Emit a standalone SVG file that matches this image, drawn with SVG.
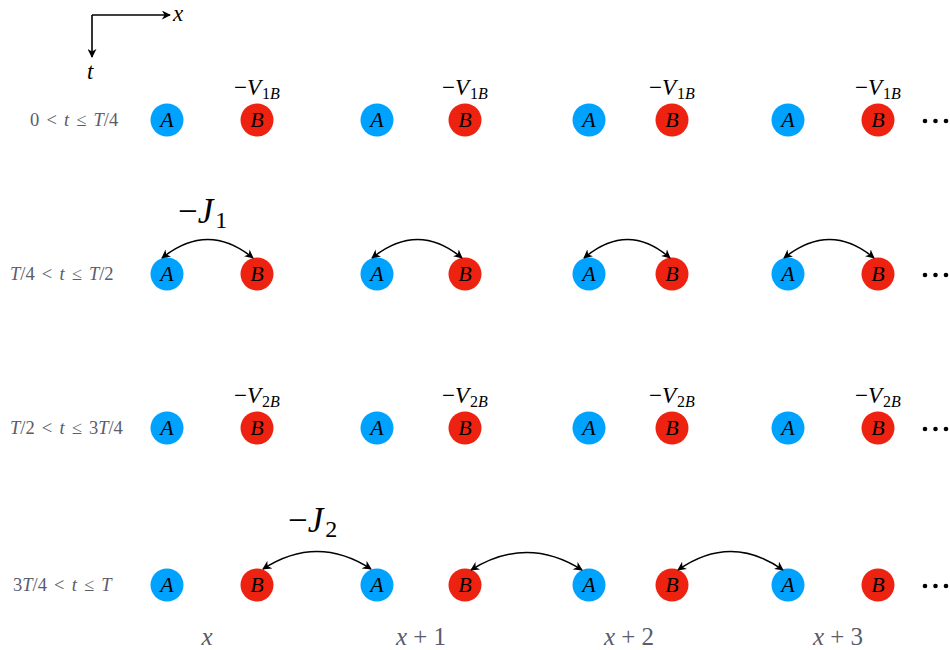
<svg xmlns="http://www.w3.org/2000/svg" width="950" height="650" viewBox="0 0 950 650" font-family="Liberation Serif, Times New Roman, serif">
<defs>
<marker id="ah" viewBox="0 0 10 10" refX="9" refY="5" markerWidth="9" markerHeight="9" markerUnits="userSpaceOnUse" orient="auto-start-reverse">
<path d="M0,0 L10,5 L0,10 L3,5 Z" fill="#000"/>
</marker>
</defs>
<style>
.a{fill:#00A2FF}
.b{fill:#EE2211}
.arc{fill:none;stroke:#000;stroke-width:1.5;marker-start:url(#ah);marker-end:url(#ah)}
.ax{fill:none;stroke:#000;stroke-width:1.6;marker-end:url(#ah)}
.dot{fill:#000}
</style>

<g id="axes">
<path class="ax" d="M92,15 L170,15"/>
<path class="ax" d="M92,15 L92,57"/>
<text x="173" y="21" font-size="23" font-style="italic" fill="#000">x</text>
<text x="87" y="79" font-size="23" font-style="italic" fill="#000">t</text>
</g>

<g id="row-labels" font-size="18.5" fill="#5b5b6b" word-spacing="2.5">
<text x="30" y="126">0 &lt; <tspan font-style="italic">t</tspan> ≤ <tspan font-style="italic">T</tspan>/4</text>
<text x="10" y="280"><tspan font-style="italic">T</tspan>/4 &lt; <tspan font-style="italic">t</tspan> ≤ <tspan font-style="italic">T</tspan>/2</text>
<text x="10" y="434"><tspan font-style="italic">T</tspan>/2 &lt; <tspan font-style="italic">t</tspan> ≤ 3<tspan font-style="italic">T</tspan>/4</text>
<text x="13" y="591">3<tspan font-style="italic">T</tspan>/4 &lt; <tspan font-style="italic">t</tspan> ≤ <tspan font-style="italic">T</tspan></text>
</g>

<g id="nodes" font-size="22" font-style="italic" text-anchor="middle" fill="#000">
<!-- Row 1 -->
<g id="r1-A0"><circle class="a" cx="167" cy="120" r="16.5"/><text x="167" y="127">A</text></g>
<g id="r1-B0"><circle class="b" cx="257" cy="120" r="16.5"/><text x="257" y="127">B</text></g>
<g id="r1-A1"><circle class="a" cx="377" cy="120" r="16.5"/><text x="377" y="127">A</text></g>
<g id="r1-B1"><circle class="b" cx="465" cy="120" r="16.5"/><text x="465" y="127">B</text></g>
<g id="r1-A2"><circle class="a" cx="589" cy="120" r="16.5"/><text x="589" y="127">A</text></g>
<g id="r1-B2"><circle class="b" cx="672" cy="120" r="16.5"/><text x="672" y="127">B</text></g>
<g id="r1-A3"><circle class="a" cx="788" cy="120" r="16.5"/><text x="788" y="127">A</text></g>
<g id="r1-B3"><circle class="b" cx="878" cy="120" r="16.5"/><text x="878" y="127">B</text></g>
<!-- Row 2 -->
<g id="r2-A0"><circle class="a" cx="167" cy="274" r="16.5"/><text x="167" y="281">A</text></g>
<g id="r2-B0"><circle class="b" cx="257" cy="274" r="16.5"/><text x="257" y="281">B</text></g>
<g id="r2-A1"><circle class="a" cx="377" cy="274" r="16.5"/><text x="377" y="281">A</text></g>
<g id="r2-B1"><circle class="b" cx="465" cy="274" r="16.5"/><text x="465" y="281">B</text></g>
<g id="r2-A2"><circle class="a" cx="589" cy="274" r="16.5"/><text x="589" y="281">A</text></g>
<g id="r2-B2"><circle class="b" cx="672" cy="274" r="16.5"/><text x="672" y="281">B</text></g>
<g id="r2-A3"><circle class="a" cx="788" cy="274" r="16.5"/><text x="788" y="281">A</text></g>
<g id="r2-B3"><circle class="b" cx="878" cy="274" r="16.5"/><text x="878" y="281">B</text></g>
<!-- Row 3 -->
<g id="r3-A0"><circle class="a" cx="167" cy="428" r="16.5"/><text x="167" y="435">A</text></g>
<g id="r3-B0"><circle class="b" cx="257" cy="428" r="16.5"/><text x="257" y="435">B</text></g>
<g id="r3-A1"><circle class="a" cx="377" cy="428" r="16.5"/><text x="377" y="435">A</text></g>
<g id="r3-B1"><circle class="b" cx="465" cy="428" r="16.5"/><text x="465" y="435">B</text></g>
<g id="r3-A2"><circle class="a" cx="589" cy="428" r="16.5"/><text x="589" y="435">A</text></g>
<g id="r3-B2"><circle class="b" cx="672" cy="428" r="16.5"/><text x="672" y="435">B</text></g>
<g id="r3-A3"><circle class="a" cx="788" cy="428" r="16.5"/><text x="788" y="435">A</text></g>
<g id="r3-B3"><circle class="b" cx="878" cy="428" r="16.5"/><text x="878" y="435">B</text></g>
<!-- Row 4 -->
<g id="r4-A0"><circle class="a" cx="167" cy="585" r="16.5"/><text x="167" y="592">A</text></g>
<g id="r4-B0"><circle class="b" cx="257" cy="585" r="16.5"/><text x="257" y="592">B</text></g>
<g id="r4-A1"><circle class="a" cx="377" cy="585" r="16.5"/><text x="377" y="592">A</text></g>
<g id="r4-B1"><circle class="b" cx="465" cy="585" r="16.5"/><text x="465" y="592">B</text></g>
<g id="r4-A2"><circle class="a" cx="589" cy="585" r="16.5"/><text x="589" y="592">A</text></g>
<g id="r4-B2"><circle class="b" cx="672" cy="585" r="16.5"/><text x="672" y="592">B</text></g>
<g id="r4-A3"><circle class="a" cx="788" cy="585" r="16.5"/><text x="788" y="592">A</text></g>
<g id="r4-B3"><circle class="b" cx="878" cy="585" r="16.5"/><text x="878" y="592">B</text></g>
</g>

<g id="potential-labels" font-size="23" fill="#000">
<text x="234" y="95">−<tspan font-style="italic">V</tspan><tspan font-size="16" dy="4" dx="1">1<tspan font-style="italic">B</tspan></tspan></text>
<text x="442" y="95">−<tspan font-style="italic">V</tspan><tspan font-size="16" dy="4" dx="1">1<tspan font-style="italic">B</tspan></tspan></text>
<text x="649" y="95">−<tspan font-style="italic">V</tspan><tspan font-size="16" dy="4" dx="1">1<tspan font-style="italic">B</tspan></tspan></text>
<text x="855" y="95">−<tspan font-style="italic">V</tspan><tspan font-size="16" dy="4" dx="1">1<tspan font-style="italic">B</tspan></tspan></text>
<text x="234" y="403">−<tspan font-style="italic">V</tspan><tspan font-size="16" dy="4" dx="1">2<tspan font-style="italic">B</tspan></tspan></text>
<text x="442" y="403">−<tspan font-style="italic">V</tspan><tspan font-size="16" dy="4" dx="1">2<tspan font-style="italic">B</tspan></tspan></text>
<text x="649" y="403">−<tspan font-style="italic">V</tspan><tspan font-size="16" dy="4" dx="1">2<tspan font-style="italic">B</tspan></tspan></text>
<text x="855" y="403">−<tspan font-style="italic">V</tspan><tspan font-size="16" dy="4" dx="1">2<tspan font-style="italic">B</tspan></tspan></text>
</g>

<g id="hopping-labels" font-size="35" fill="#000">
<text x="178" y="223">−<tspan font-style="italic">J</tspan><tspan font-size="24" dy="5" dx="2">1</tspan></text>
<text x="288" y="532">−<tspan font-style="italic">J</tspan><tspan font-size="24" dy="5" dx="2">2</tspan></text>
</g>

<g id="connectors">
<path class="arc" d="M162,258 Q208,221 253,258"/>
<path class="arc" d="M372,258 Q418,221 462,258"/>
<path class="arc" d="M584,258 Q628,221 670,258"/>
<path class="arc" d="M784,258 Q830,221 874,258"/>
<path class="arc" d="M263,569 Q317,534 371,569"/>
<path class="arc" d="M471,570 Q527,535 582,570"/>
<path class="arc" d="M678,570 Q731,533 783,570"/>
</g>

<g id="ellipses">
<circle class="dot" cx="925" cy="121" r="2.3"/><circle class="dot" cx="935.5" cy="121" r="2.3"/><circle class="dot" cx="946" cy="121" r="2.3"/>
<circle class="dot" cx="925" cy="275" r="2.3"/><circle class="dot" cx="935.5" cy="275" r="2.3"/><circle class="dot" cx="946" cy="275" r="2.3"/>
<circle class="dot" cx="925" cy="429" r="2.3"/><circle class="dot" cx="935.5" cy="429" r="2.3"/><circle class="dot" cx="946" cy="429" r="2.3"/>
<circle class="dot" cx="925" cy="586" r="2.3"/><circle class="dot" cx="935.5" cy="586" r="2.3"/><circle class="dot" cx="946" cy="586" r="2.3"/>
</g>

<g id="x-labels" font-size="25" fill="#5b5b6b" text-anchor="middle">
<text x="207" y="645"><tspan font-style="italic">x</tspan></text>
<text x="421" y="645"><tspan font-style="italic">x</tspan> + 1</text>
<text x="629" y="645"><tspan font-style="italic">x</tspan> + 2</text>
<text x="838" y="645"><tspan font-style="italic">x</tspan> + 3</text>
</g>
</svg>
